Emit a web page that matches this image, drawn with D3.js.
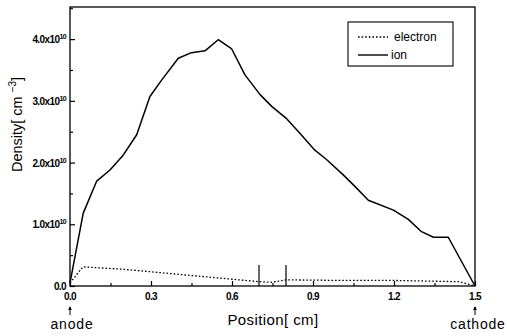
<!DOCTYPE html>
<html>
<head>
<meta charset="utf-8">
<script src="https://d3js.org/d3.v7.min.js"></script>
<style>
    body { margin: 0; background: #fff; }
    svg { font-family: "Liberation Sans", Arial, sans-serif; }
    .tick-label { font-size: 10px; font-weight: bold; letter-spacing: -0.6px; }
</style>
</head>
<body>
<div id="chart"></div>
<script>
// positions in cm, densities in units of 10^10 cm^-3
var ionX = [0, 0.049, 0.099, 0.148, 0.197, 0.247, 0.296, 0.34, 0.401, 0.45, 0.5, 0.549, 0.599, 0.648, 0.704, 0.747, 0.8, 0.852, 0.907, 0.95, 1.012, 1.056, 1.105, 1.198, 1.253, 1.302, 1.346, 1.401, 1.5];
var ionY = [0.05, 1.18, 1.70, 1.88, 2.12, 2.45, 3.07, 3.34, 3.69, 3.78, 3.81, 3.99, 3.84, 3.42, 3.10, 2.91, 2.72, 2.47, 2.20, 2.05, 1.80, 1.61, 1.39, 1.23, 1.08, 0.88, 0.79, 0.79, 0];
var elecX = [0, 0.048, 0.2, 0.45, 0.7, 0.75, 0.8, 1.0, 1.2, 1.44, 1.5];
var elecY = [0.05, 0.31, 0.27, 0.17, 0.07, 0.06, 0.10, 0.09, 0.09, 0.07, 0];
var markerX = [0.7, 0.8];
var markerTop = 0.34;
var xTicks = [0, 0.3, 0.6, 0.9, 1.2, 1.5];
var xTickLabels = ["0.0", "0.3", "0.6", "0.9", "1.2", "1.5"];
var yTicks = [0, 1, 2, 3, 4];
var yTickLabels = ["0.0", "1.0x10", "2.0x10", "3.0x10", "4.0x10"];
var seriesNames = ["electron", "ion"];

var W = 507, H = 336;
var margin = { top: 7, right: 32, bottom: 50, left: 70 };
var width = W - margin.left - margin.right;
var height = H - margin.top - margin.bottom;

var svg = d3.select("#chart").append("svg")
    .attr("width", W).attr("height", H);
var g = svg.append("g")
    .attr("transform", "translate(" + margin.left + "," + margin.top + ")");

var x = d3.scaleLinear().domain([0, 1.5]).range([0, width]);
var y = d3.scaleLinear().domain([0, 4.52]).range([height, 0]);

// frame
g.append("rect")
    .attr("width", width).attr("height", height)
    .attr("fill", "none").attr("stroke", "#000").attr("stroke-width", 1.3);

// inward ticks
var xAxis = g.append("g")
    .attr("transform", "translate(0," + height + ")")
    .call(d3.axisTop(x).tickValues(d3.range(0, 1.51, 0.15)).tickSize(5).tickFormat(""));
var yAxis = g.append("g")
    .call(d3.axisRight(y).tickValues(d3.range(0, 4.51, 0.5)).tickSize(5).tickFormat(""));
[xAxis, yAxis].forEach(function (a) {
    a.select(".domain").remove();
    a.selectAll("line").attr("stroke", "#000").attr("stroke-width", 1.2);
});
yAxis.selectAll(".tick line").attr("x2", function (d) { return Math.round(d * 2) % 2 ? 3 : 5; });
xAxis.selectAll(".tick line").attr("y2", function (d, i) { return i % 2 ? -3 : -5; });

// tick labels
g.selectAll(".xl").data(xTicks).enter().append("text")
    .attr("class", "tick-label")
    .attr("x", function (d) { return x(d); })
    .attr("y", height + 14)
    .attr("text-anchor", "middle")
    .text(function (d, i) { return xTickLabels[i]; });

var yl = g.selectAll(".yl").data(yTicks).enter().append("text")
    .attr("class", "tick-label")
    .attr("x", -4)
    .attr("y", function (d) { return y(d) + 4; })
    .attr("text-anchor", "end");
yl.append("tspan").text(function (d, i) { return yTickLabels[i]; });
yl.filter(function (d) { return d > 0; }).append("tspan")
    .attr("dy", -4).attr("font-size", "7px").text("10");

// axis titles
var yTitle = svg.append("text")
    .attr("transform", "translate(22," + (margin.top + height / 2 - 22) + ") rotate(-90)")
    .attr("text-anchor", "middle")
    .attr("font-size", "14.5px");
yTitle.append("tspan").text("Density[ cm ");
yTitle.append("tspan").attr("dy", -6).attr("font-size", "10px").text("−3");
yTitle.append("tspan").attr("dy", 6).text("]");

svg.append("text")
    .attr("x", margin.left + 203).attr("y", 325)
    .attr("text-anchor", "middle").attr("font-size", "15px")
    .attr("letter-spacing", "0.4px")
    .text("Position[ cm]");

// electrode annotations
var electrodes = [{ pos: 0, name: "anode", shift: 2 }, { pos: 1.5, name: "cathode", shift: 3 }];
electrodes.forEach(function (e) {
    var px = margin.left + x(e.pos);
    svg.append("line")
        .attr("x1", px).attr("x2", px)
        .attr("y1", margin.top + height + 29).attr("y2", margin.top + height + 21)
        .attr("stroke", "#000").attr("stroke-width", 1);
    svg.append("path")
        .attr("d", "M" + (px - 1.8) + "," + (margin.top + height + 24) + "L" + px + "," + (margin.top + height + 20) + "L" + (px + 1.8) + "," + (margin.top + height + 24) + "Z")
        .attr("fill", "#000");
    svg.append("text")
        .attr("x", px + e.shift).attr("y", 329)
        .attr("text-anchor", "middle").attr("font-size", "14px")
        .attr("letter-spacing", "0.8px")
        .text(e.name);
});

// curves
var line = d3.line()
    .x(function (d) { return x(d[0]); })
    .y(function (d) { return y(d[1]); });

g.append("path")
    .datum(d3.zip(elecX, elecY))
    .attr("d", line)
    .attr("fill", "none").attr("stroke", "#000")
    .attr("stroke-width", 1.3).attr("stroke-dasharray", "1.6,2");

g.append("path")
    .datum(d3.zip(ionX, ionY))
    .attr("d", line)
    .attr("fill", "none").attr("stroke", "#000")
    .attr("stroke-width", 1.5).attr("stroke-linejoin", "round");

g.selectAll(".marker").data(markerX).enter().append("line")
    .attr("x1", function (d) { return x(d); })
    .attr("x2", function (d) { return x(d); })
    .attr("y1", y(0)).attr("y2", y(markerTop))
    .attr("stroke", "#000").attr("stroke-width", 1.2);

// legend
var lg = svg.append("g").attr("transform", "translate(348,22)");
lg.append("rect").attr("width", 105).attr("height", 44)
    .attr("fill", "#fff").attr("stroke", "#000").attr("stroke-width", 1.1);
seriesNames.forEach(function (s, i) {
    var ly = 15 + i * 18;
    lg.append("line")
        .attr("x1", 10).attr("x2", 40).attr("y1", ly).attr("y2", ly)
        .attr("stroke", "#000").attr("stroke-width", i ? 1.4 : 1.3)
        .attr("stroke-dasharray", i ? null : "1.6,2");
    lg.append("text")
        .attr("x", i ? 43 : 46).attr("y", ly + 4)
        .attr("font-size", "12px")
        .text(s);
});
</script>
</body>
</html>
